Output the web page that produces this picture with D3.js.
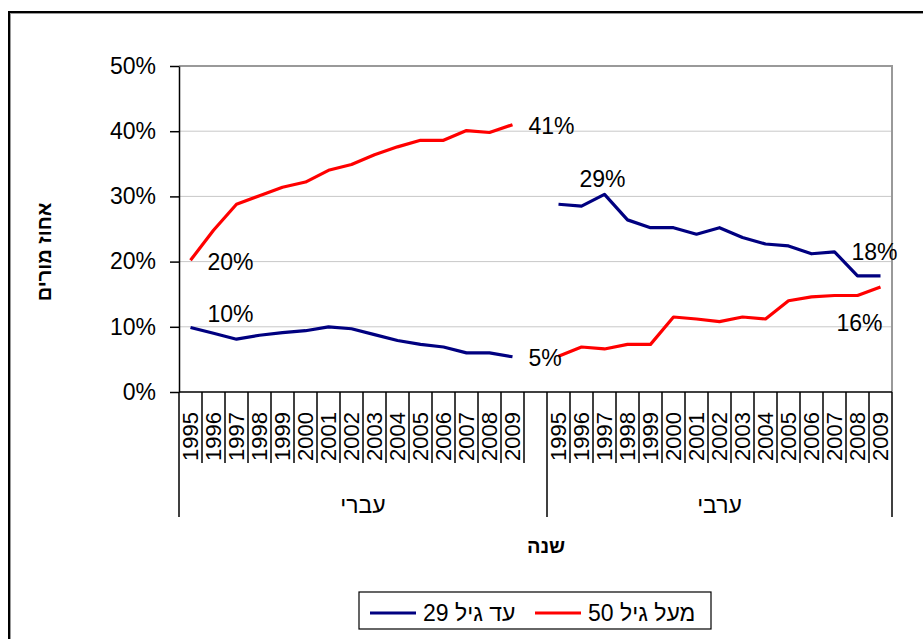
<!DOCTYPE html>
<html>
<head>
<meta charset="utf-8">
<script src="https://cdn.jsdelivr.net/npm/d3@7"></script>
<style>
  body { margin: 0; background: #fff; }
  text { font-family: "Liberation Sans", Arial, sans-serif; fill: #000; }
</style>
</head>
<body>
<div id="chart"></div>
<script>
var groups = ["עברי", "ערבי"];
var years = ["1995", "1996", "1997", "1998", "1999", "2000", "2001", "2002",
             "2003", "2004", "2005", "2006", "2007", "2008", "2009"];
var seriesNames = ["עד גיל 29", "מעל גיל 50"];
var yTicks = [0, 10, 20, 30, 40, 50];

// percent values
var hebrewUnder29 = [9.9, 9.0, 8.1, 8.7, 9.1, 9.4, 10.0, 9.7, 8.8, 7.9, 7.3, 6.9, 6.0, 6.0, 5.4];
var hebrewOver50 = [20.2, 24.8, 28.8, 30.1, 31.4, 32.2, 34.0, 34.9, 36.4, 37.6, 38.6, 38.6, 40.1, 39.8, 41.0];
var arabUnder29 = [28.8, 28.5, 30.3, 26.4, 25.2, 25.2, 24.2, 25.2, 23.7, 22.7, 22.4, 21.2, 21.5, 17.8, 17.8];
var arabOver50 = [5.5, 6.9, 6.6, 7.3, 7.3, 11.5, 11.2, 10.8, 11.5, 11.2, 14.0, 14.6, 14.8, 14.8, 16.1];

function chart() {
    var width = 923;
    var height = 639;
    var left = 179, right = 892, top = 66, bottom = 392;

    var svg = d3.select('#chart')
      .append('svg')
      .attr('width', width)
      .attr('height', height);

    // outer frame
    svg.append('rect')
      .attr('x', 10).attr('y', 13).attr('width', 940).attr('height', 650)
      .attr('fill', 'none').attr('stroke', '#999').attr('stroke-width', 2);
    svg.append('rect')
      .attr('x', 9).attr('y', 12).attr('width', 940).attr('height', 650)
      .attr('fill', 'none').attr('stroke', '#000').attr('stroke-width', 2);

    // categories: 15 years, a blank slot, 15 years
    var keys = [];
    years.forEach(function(y) { keys.push(groups[0] + y); });
    keys.push('blank');
    years.forEach(function(y) { keys.push(groups[1] + y); });

    var x = d3.scaleBand().domain(keys).range([left, right]);
    var y = d3.scaleLinear().domain([0, 50]).range([bottom, top]);

    // grid
    svg.append('g').selectAll('line')
      .data(yTicks.slice(1, -1))
      .enter().append('line')
      .attr('x1', left).attr('x2', right)
      .attr('y1', function(d) { return y(d); })
      .attr('y2', function(d) { return y(d); })
      .attr('stroke', '#c8c8c8').attr('stroke-width', 1);

    // plot area border top / right
    svg.append('path')
      .attr('d', 'M' + left + ',' + y(50) + 'H' + right + 'V' + bottom)
      .attr('fill', 'none').attr('stroke', '#999').attr('stroke-width', 2);

    // y axis
    var yAxis = d3.axisLeft(y)
      .tickValues(yTicks)
      .tickSize(9)
      .tickSizeOuter(0)
      .tickPadding(14)
      .tickFormat(function(d) { return d + '%'; });
    var gy = svg.append('g')
      .attr('transform', 'translate(' + left + ',0)')
      .call(yAxis);
    gy.select('.domain').attr('stroke', '#000').attr('stroke-width', 1.5);
    gy.selectAll('.tick line').attr('stroke', '#000').attr('stroke-width', 1.5);
    gy.selectAll('.tick text')
      .style('font-family', '"Liberation Sans", Arial, sans-serif')
      .style('font-size', '23px').attr('fill', '#000');

    // x axis (two levels)
    var xg = svg.append('g');
    xg.append('line')
      .attr('x1', left).attr('x2', right)
      .attr('y1', bottom).attr('y2', bottom)
      .attr('stroke', '#000').attr('stroke-width', 1.5);
    var bounds = keys.map(function(k) { return x(k); }).concat([right]);
    xg.selectAll('line.tk')
      .data(bounds)
      .enter().append('line')
      .attr('class', 'tk')
      .attr('x1', function(d) { return d; })
      .attr('x2', function(d) { return d; })
      .attr('y1', bottom)
      .attr('y2', function(d, i) { return (i === 0 || i === 16 || i === 31) ? 517 : 463; })
      .attr('stroke', '#000').attr('stroke-width', 1.5);

    xg.selectAll('text.yr')
      .data(keys.filter(function(k) { return k !== 'blank'; }))
      .enter().append('text')
      .attr('class', 'yr')
      .attr('transform', function(d) {
        return 'translate(' + (x(d) + x.bandwidth() / 2) + ',412) rotate(-90)';
      })
      .attr('text-anchor', 'end')
      .attr('dy', '0.35em')
      .style('font-size', '22px')
      .text(function(d) { return d.slice(-4); });

    xg.selectAll('text.grp')
      .data(groups)
      .enter().append('text')
      .attr('class', 'grp')
      .attr('x', function(d, i) {
        return i === 0 ? (left + x('blank') + x.bandwidth()) / 2
                       : (x('blank') + x.bandwidth() + right) / 2;
      })
      .attr('y', 505)
      .attr('dy', '0.35em')
      .attr('text-anchor', 'middle')
      .style('font-size', '23px')
      .text(function(d) { return d; });

    // axis titles
    svg.append('text')
      .attr('x', 546).attr('y', 546).attr('dy', '0.35em')
      .attr('text-anchor', 'middle')
      .style('font-size', '20px').style('font-weight', 'bold')
      .text('שנה');
    svg.append('text')
      .attr('transform', 'translate(44,252) rotate(-90)')
      .attr('dy', '0.35em')
      .attr('text-anchor', 'middle')
      .style('font-size', '20px').style('font-weight', 'bold')
      .text('אחוז מורים');

    // series
    var lines = [
      {group: groups[0], values: hebrewUnder29, color: '#000080'},
      {group: groups[0], values: hebrewOver50, color: '#ff0000'},
      {group: groups[1], values: arabUnder29, color: '#000080'},
      {group: groups[1], values: arabOver50, color: '#ff0000'}
    ];

    lines.forEach(function(s) {
      var l = d3.line()
        .x(function(d, i) { return x(s.group + years[i]) + x.bandwidth() / 2; })
        .y(function(d) { return y(d); });
      svg.append('path')
        .attr('d', l(s.values))
        .attr('fill', 'none')
        .attr('stroke', s.color)
        .attr('stroke-width', 3.2)
        .attr('stroke-linejoin', 'round');
    });

    // data labels: series index, point index, offset, anchor
    var labels = [
      {s: 1, i: 0, dx: 17, dy: 2, anchor: 'start'},
      {s: 1, i: 14, dx: 16, dy: 1, anchor: 'start'},
      {s: 0, i: 0, dx: 17, dy: -14, anchor: 'start'},
      {s: 0, i: 14, dx: 16, dy: 1, anchor: 'start'},
      {s: 2, i: 0, dx: 44, dy: -25, anchor: 'middle'},
      {s: 2, i: 14, dx: -6, dy: -24, anchor: 'middle'},
      {s: 3, i: 14, dx: -21, dy: 36, anchor: 'middle'}
    ];
    svg.append('g').selectAll('text')
      .data(labels)
      .enter().append('text')
      .attr('x', function(d) { return x(lines[d.s].group + years[d.i]) + x.bandwidth() / 2 + d.dx; })
      .attr('y', function(d) { return y(lines[d.s].values[d.i]) + d.dy; })
      .attr('dy', '0.35em')
      .attr('text-anchor', function(d) { return d.anchor; })
      .style('font-size', '23px')
      .text(function(d) { return Math.round(lines[d.s].values[d.i]) + '%'; });

    // legend
    var lg = svg.append('g');
    lg.append('rect')
      .attr('x', 359).attr('y', 592).attr('width', 352).attr('height', 37)
      .attr('fill', '#fff').attr('stroke', '#000').attr('stroke-width', 1.2);
    var items = [
      {name: seriesNames[0], color: '#000080', x: 370},
      {name: seriesNames[1], color: '#ff0000', x: 535}
    ];
    var it = lg.selectAll('g.item')
      .data(items)
      .enter().append('g')
      .attr('transform', function(d) { return 'translate(' + d.x + ',613)'; });
    it.append('line')
      .attr('x1', 0).attr('x2', 46)
      .attr('stroke', function(d) { return d.color; })
      .attr('stroke-width', 3.2);
    it.append('text')
      .attr('x', 53)
      .attr('dy', '0.35em')
      .style('font-size', '23px')
      .text(function(d) { return d.name; });
}

chart();
</script>
</body>
</html>
